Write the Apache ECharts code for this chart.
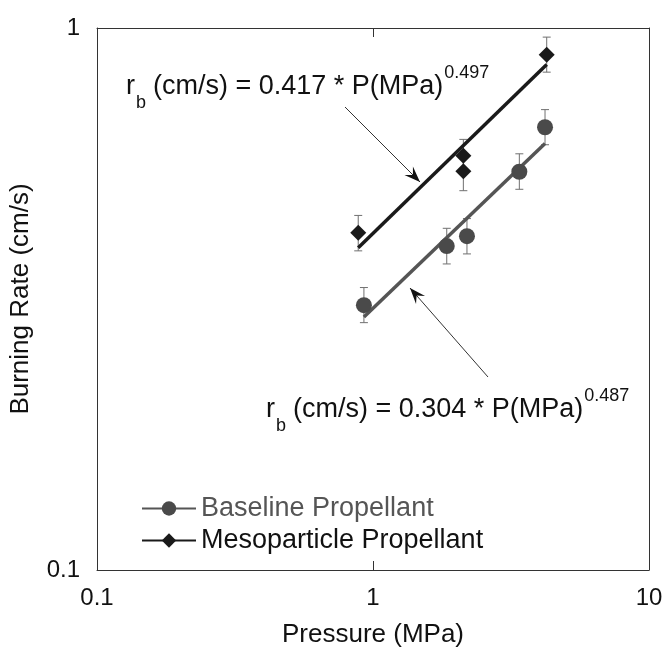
<!DOCTYPE html>
<html>
<head>
<meta charset="utf-8">
<script src="https://cdn.jsdelivr.net/npm/echarts@6/dist/echarts.min.js"></script>
<style>
  html, body { margin: 0; padding: 0; background: #fff; }
  #chart { width: 666px; height: 653px; }
</style>
</head>
<body>
<div id="chart"></div>
<script>
// measured points (pressure MPa, burning rate cm/s)
var baseP = [0.927, 1.85, 2.19, 3.39, 4.2];
var baseR = [0.308, 0.396, 0.413, 0.543, 0.656];
var baseLo = [0.286, 0.367, 0.383, 0.504, 0.609];
var baseHi = [0.332, 0.427, 0.445, 0.586, 0.707];

var mesoP = [0.884, 2.125, 2.125, 4.26];
var mesoR = [0.419, 0.581, 0.544, 0.893];
var mesoLo = [0.388, 0.540, 0.501, 0.829];
var mesoHi = [0.451, 0.623, 0.585, 0.962];

// fitted power-law lines, end points
var baseFitP = [0.927, 4.2];
var baseFitR = [0.293, 0.612];
var mesoFitP = [0.884, 4.26];
var mesoFitR = [0.393, 0.856];

var xTicks = [0.1, 1, 10];
var yTicks = [0.1, 1];

var FONT = '"Liberation Sans", Arial, sans-serif';
var GRAY = '#4a4a4a';
var BLACK = '#1a1a1a';

function pairs(xs, ys) {
  return xs.map(function (x, i) { return [x, ys[i]]; });
}
function errData(xs, lo, hi) {
  return xs.map(function (x, i) { return [x, lo[i], hi[i]]; });
}

function errRender(params, api) {
  var x = api.value(0);
  var top = api.coord([x, api.value(2)]);
  var bot = api.coord([x, api.value(1)]);
  var w = 4;
  var st = { stroke: '#707070', lineWidth: 1 };
  return {
    type: 'group',
    children: [
      { type: 'line', shape: { x1: top[0], y1: top[1], x2: bot[0], y2: bot[1] }, style: st },
      { type: 'line', shape: { x1: top[0] - w, y1: top[1], x2: top[0] + w, y2: top[1] }, style: st },
      { type: 'line', shape: { x1: bot[0] - w, y1: bot[1], x2: bot[0] + w, y2: bot[1] }, style: st }
    ]
  };
}

function arrow(x1, y1, x2, y2) {
  var ang = Math.atan2(y2 - y1, x2 - x1);
  var len = 16, half = 6, notch = 10;
  var ca = Math.cos(ang), sa = Math.sin(ang);
  function pt(along, side) {
    return [x2 - along * ca - side * sa, y2 - along * sa + side * ca];
  }
  return [
    { type: 'line', shape: { x1: x1, y1: y1, x2: x2, y2: y2 }, style: { stroke: '#333', lineWidth: 1 }, z: 100 },
    { type: 'polygon', shape: { points: [[x2, y2], pt(len, half), pt(notch, 0), pt(len, -half)] }, style: { fill: '#111' }, z: 100 }
  ];
}

var measureCtx = document.createElement('canvas').getContext('2d');
function textWidth(s, size) {
  measureCtx.font = size + 'px ' + FONT;
  return measureCtx.measureText(s).width;
}

function txt(x, y, s, size) {
  return {
    type: 'text', x: x, y: y, z: 100,
    style: { text: s, font: size + 'px ' + FONT, fill: '#111', verticalAlign: 'middle' }
  };
}

// r_b (cm/s) = ... * P(MPa)^exp, laid out piece by piece
function equation(x, y, body, expo) {
  var main = 27, small = 18;
  var bodyX = x + 27;
  var supX = bodyX + textWidth(body, main) + 1;
  return [
    txt(x, y, 'r', main),
    txt(x + 10, y + 16, 'b', small),
    txt(bodyX, y, body, main),
    txt(supX, y - 14, expo, small)
  ];
}

var chart = echarts.init(document.getElementById('chart'), null, { renderer: 'canvas' });

var axisBase = {
  type: 'log',
  logBase: 10,
  axisLine: { show: true, lineStyle: { color: '#333', width: 1 } },
  axisTick: { show: true, inside: true, length: 9, lineStyle: { color: '#333' } },
  minorTick: { show: false },
  splitLine: { show: false },
  minorSplitLine: { show: false }
};

var option = {
  backgroundColor: '#fff',
  animation: false,
  textStyle: { fontFamily: FONT },
  grid: { left: 97, right: 17, top: 28, bottom: 77, containLabel: false },
  xAxis: [
    Object.assign({}, axisBase, {
      min: xTicks[0], max: xTicks[xTicks.length - 1], position: 'bottom',
      name: 'Pressure (MPa)', nameLocation: 'middle', nameGap: 52,
      nameTextStyle: { fontSize: 26, color: '#111', fontFamily: FONT },
      axisLabel: { fontSize: 24, color: '#111', margin: 16, fontFamily: FONT,
        formatter: function (v) { return String(+v.toPrecision(3)); } }
    }),
    Object.assign({}, axisBase, {
      min: xTicks[0], max: xTicks[xTicks.length - 1], position: 'top',
      axisLabel: { show: false }
    })
  ],
  yAxis: [
    Object.assign({}, axisBase, {
      min: yTicks[0], max: yTicks[yTicks.length - 1], position: 'left',
      name: 'Burning Rate (cm/s)', nameLocation: 'middle', nameGap: 63,
      nameTextStyle: { fontSize: 26, color: '#111', fontFamily: FONT },
      axisLabel: { fontSize: 24, color: '#111', margin: 17, fontFamily: FONT,
        formatter: function (v) { return String(+v.toPrecision(3)); } }
    }),
    Object.assign({}, axisBase, {
      min: yTicks[0], max: yTicks[yTicks.length - 1], position: 'right',
      axisLabel: { show: false }
    })
  ],
  legend: {
    orient: 'vertical',
    left: 136,
    top: 490,
    itemWidth: 54,
    itemHeight: 18,
    itemGap: 5,
    textStyle: { fontSize: 27, fontFamily: FONT, lineHeight: 27 },
    data: [
      { name: 'Baseline Propellant', textStyle: { color: '#555' } },
      { name: 'Mesoparticle Propellant', textStyle: { color: '#111' } }
    ]
  },
  series: [
    {
      name: 'Baseline Propellant', type: 'line',
      data: pairs(baseFitP, baseFitR),
      symbol: 'circle', symbolSize: 16, showSymbol: false,
      itemStyle: { color: GRAY },
      lineStyle: { color: '#555', width: 3.5 },
      z: 2, silent: true
    },
    {
      name: 'Mesoparticle Propellant', type: 'line',
      data: pairs(mesoFitP, mesoFitR),
      symbol: 'diamond', symbolSize: 16, showSymbol: false,
      itemStyle: { color: BLACK },
      lineStyle: { color: BLACK, width: 3.5 },
      z: 2, silent: true
    },
    {
      name: 'baseErr', type: 'custom', renderItem: errRender,
      data: errData(baseP, baseLo, baseHi), z: 1, silent: true
    },
    {
      name: 'mesoErr', type: 'custom', renderItem: errRender,
      data: errData(mesoP, mesoLo, mesoHi), z: 1, silent: true
    },
    {
      name: 'baseData', type: 'scatter',
      data: pairs(baseP, baseR),
      symbol: 'circle', symbolSize: 16,
      itemStyle: { color: GRAY, opacity: 1 },
      z: 3, silent: true
    },
    {
      name: 'mesoData', type: 'scatter',
      data: pairs(mesoP, mesoR),
      symbol: 'diamond', symbolSize: 16,
      itemStyle: { color: BLACK, opacity: 1 },
      z: 3, silent: true
    }
  ],
  graphic: [].concat(
    equation(126, 87, '(cm/s) = 0.417 * P(MPa)', '0.497'),
    equation(266, 410, '(cm/s) = 0.304 * P(MPa)', '0.487'),
    arrow(345, 107, 420, 182),
    arrow(488, 377, 410, 288)
  )
};

chart.setOption(option);
</script>
</body>
</html>
